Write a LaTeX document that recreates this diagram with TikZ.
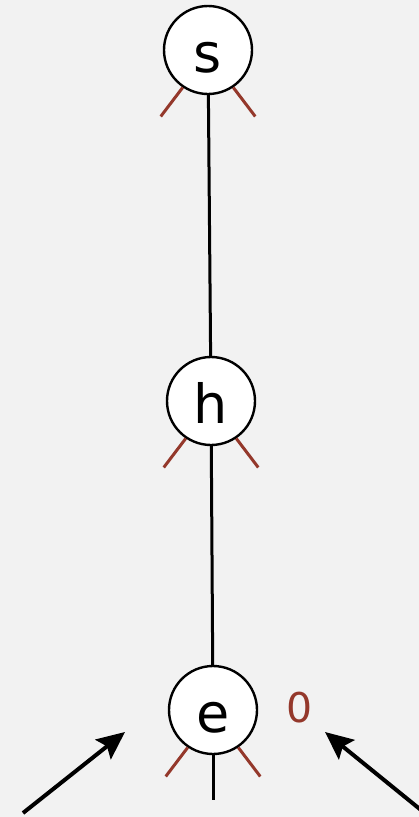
\documentclass[tikz,border=0pt]{standalone}
\usepackage{fontspec}
\setmainfont{DejaVu Sans}
\usetikzlibrary{arrows.meta}
\definecolor{bg}{HTML}{F2F2F2}
\definecolor{nilred}{HTML}{94382B}
\begin{document}
\begin{tikzpicture}[
    x=1pt, y=-1pt,
    trie/.style={circle, draw, line width=2.4pt, fill=white, minimum size=88pt, inner sep=0pt,
        font=\fontsize{54}{60}\selectfont, text height=44pt, text depth=0pt},
    link/.style={line width=3pt},
    nil/.style={draw=nilred, line width=3pt},
    val/.style={text=nilred, font=\fontsize{41}{45}\selectfont},
    ptr/.style={line width=4pt, -{Stealth[length=28pt,width=25pt,inset=5pt]}}
]
\fill[bg] (0,0) rectangle (419,817);
\useasboundingbox (0,0) rectangle (419,817);

% --- trie nodes ---
\node[trie] (s) at (208,50) {s};
\node[trie] (h) at (211,401) {h};
\node[trie] (e) at (213,710) {e};
\node[val] (e0) at (300,708) {0};

% --- links ---
\draw[link] (s) -- (h);
\draw[link] (h) -- (e);
\coordinate (enext) at (213,800);
\draw[link] (e) -- (enext);

% --- null links ---
\foreach \n in {s,h,e} {
    \draw[nil] (\n.236) -- ++(-22,29);
    \draw[nil] (\n.304) -- ++(22,29);
}

% --- pointers ---
\coordinate (lfrom) at (23,813);
\coordinate (lto) at (125,732);
\coordinate (rfrom) at (421,810);
\coordinate (rto) at (325,732);
\draw[ptr] (lfrom) -- (lto);
\draw[ptr] (rfrom) -- (rto);
\end{tikzpicture}
\end{document}
